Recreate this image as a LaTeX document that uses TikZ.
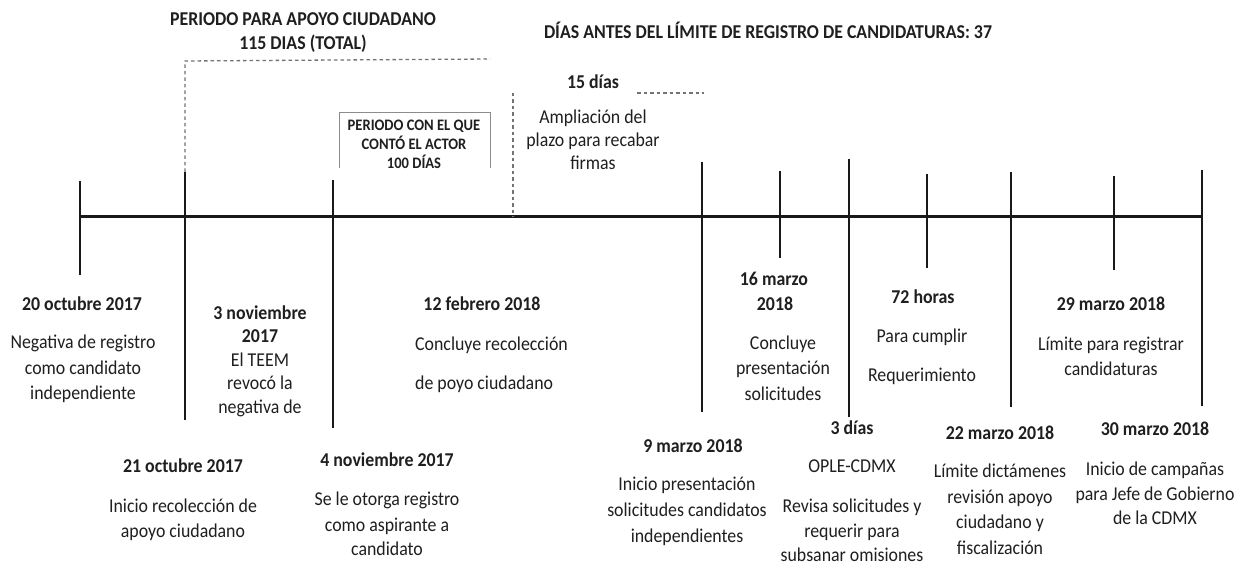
\documentclass[tikz,border=0pt]{standalone}
\usepackage{fontspec}
\setmainfont{Carlito}[FakeStretch=0.91]
\begin{document}
\begin{tikzpicture}[x=1pt,y=-1pt,
  txt/.style={font=\fontsize{19.6}{22}\selectfont, anchor=base, inner sep=0pt, text=black!88},
  txb/.style={txt, font=\fontsize{19.6}{22}\selectfont\bfseries},
  txs/.style={txt, font=\fontsize{16}{18}\selectfont\bfseries},
  tick/.style={line width=2.4pt, black!90},
  axis/.style={line width=3pt, black!90},
  guide/.style={line width=1.3pt, black!55, dash pattern=on 3.5pt off 3pt},
  framebox/.style={line width=1pt, black!45}]
\useasboundingbox (0,0) rectangle (1237,564);
\fill[white] (0,0) rectangle (1237,564);

% axis and ticks
\coordinate (L) at (80,217);
\coordinate (R) at (1202,217);
\draw[axis] (L) -- (R);
\foreach \i/\x/\t/\b in {1/80/181/275, 2/185/172/420, 3/333/180/428, 4/702/162/412, 5/780/171/258,
  6/849/159/417, 7/927/174/268, 8/1011/172/407, 9/1114/176/270, 10/1202/170/406}{
  \coordinate (t\i top) at (\x,\t);
  \coordinate (t\i bot) at (\x,\b);
  \draw[tick] (t\i top) -- (t\i bot);
}

% dashed guides
\coordinate (g1) at (185,61);
\coordinate (g2) at (490,59);
\draw[guide] (t2top) -- (g1) -- (g2);
\coordinate (g3) at (513,93);
\coordinate (g4) at (513,217);
\draw[guide] (g3) -- (g4);
\coordinate (g5) at (637,93);
\coordinate (g6) at (704,93);
\draw[guide] (g5) -- (g6);

% box "periodo con el que conto el actor"
\coordinate (b1) at (339,168);
\coordinate (b2) at (339,113);
\coordinate (b3) at (490,113);
\coordinate (b4) at (490,168);
\draw[framebox] (b1) -- (b2) -- (b3) -- (b4);
\node[txs] (bx1) at (414,131) {PERIODO CON EL QUE};
\node[txs] (bx2) at (414,150) {CONTÓ EL ACTOR};
\node[txs] (bx3) at (414,169) {100 DÍAS};

% titles
\node[txb] (ti1) at (303,26) {PERIODO PARA APOYO CIUDADANO};
\node[txb] (ti2) at (303,50) {115 DIAS (TOTAL)};
\node[txb] (ti3) at (768,39) {DÍAS ANTES DEL LÍMITE DE REGISTRO DE CANDIDATURAS: 37};

\node[txb] (q1) at (593,89) {15 días};
\node[txt] (q2) at (593,124) {Ampliación del};
\node[txt] (q3) at (593,147) {plazo para recabar};
\node[txt] (q4) at (593,170) {firmas};

% upper row of labels under axis
\node[txb] (a1) at (82,310) {20 octubre 2017};
\node[txt] (a2) at (83,348) {Negativa de registro};
\node[txt] (a3) at (83,374) {como candidato};
\node[txt] (a4) at (83,399) {independiente};

\node[txb] (c1) at (260,319) {3 noviembre};
\node[txb] (c2) at (260,342) {2017};
\node[txt] (c3) at (260,366) {El TEEM};
\node[txt] (c4) at (260,389) {revocó la};
\node[txt] (c5) at (260,413) {negativa de};

\node[txb] (e1) at (482,310) {12 febrero 2018};
\node[txt, anchor=base west] (e2) at (415,350) {Concluye recolección};
\node[txt, anchor=base west] (e3) at (415,389) {de poyo ciudadano};

\node[txb] (g1t) at (774,285) {16 marzo};
\node[txb] (g2t) at (775,310) {2018};
\node[txt] (g3t) at (783,349) {Concluye};
\node[txt] (g4t) at (783,374) {presentación};
\node[txt] (g5t) at (783,400) {solicitudes};

\node[txb] (h1) at (923,303) {72 horas};
\node[txt] (h2) at (922,342) {Para cumplir};
\node[txt] (h3) at (922,381) {Requerimiento};

\node[txb] (k1) at (1111,310) {29 marzo 2018};
\node[txt] (k2) at (1111,350) {Límite para registrar};
\node[txt] (k3) at (1111,375) {candidaturas};

% lower row
\node[txb] (b21) at (183,472) {21 octubre 2017};
\node[txt] (b22) at (183,512) {Inicio recolección de};
\node[txt] (b23) at (183,537) {apoyo ciudadano};

\node[txb] (d1) at (387,466) {4 noviembre 2017};
\node[txt] (d2) at (387,505) {Se le otorga registro};
\node[txt] (d3) at (387,531) {como aspirante a};
\node[txt] (d4) at (387,555) {candidato};

\node[txb] (f1) at (693,452) {9 marzo 2018};
\node[txt] (f2) at (687,490) {Inicio presentación};
\node[txt] (f3) at (687,516) {solicitudes candidatos};
\node[txt] (f4) at (687,542) {independientes};

\node[txb] (m1) at (852,434) {3 días};
\node[txt] (m2) at (852,472) {OPLE-CDMX};
\node[txt] (m3) at (852,512) {Revisa solicitudes y};
\node[txt] (m4) at (852,537) {requerir para};
\node[txt] (m5) at (852,561) {subsanar omisiones};

\node[txb] (n1) at (1000,439) {22 marzo 2018};
\node[txt] (n2) at (1000,477) {Límite dictámenes};
\node[txt] (n3) at (1000,503) {revisión apoyo};
\node[txt] (n4) at (1000,528) {ciudadano y};
\node[txt] (n5) at (1000,554) {fiscalización};

\node[txb] (p1) at (1155,435) {30 marzo 2018};
\node[txt] (p2) at (1155,475) {Inicio de campañas};
\node[txt] (p3) at (1155,500) {para Jefe de Gobierno};
\node[txt] (p4) at (1155,524) {de la CDMX};
\end{tikzpicture}
\end{document}
